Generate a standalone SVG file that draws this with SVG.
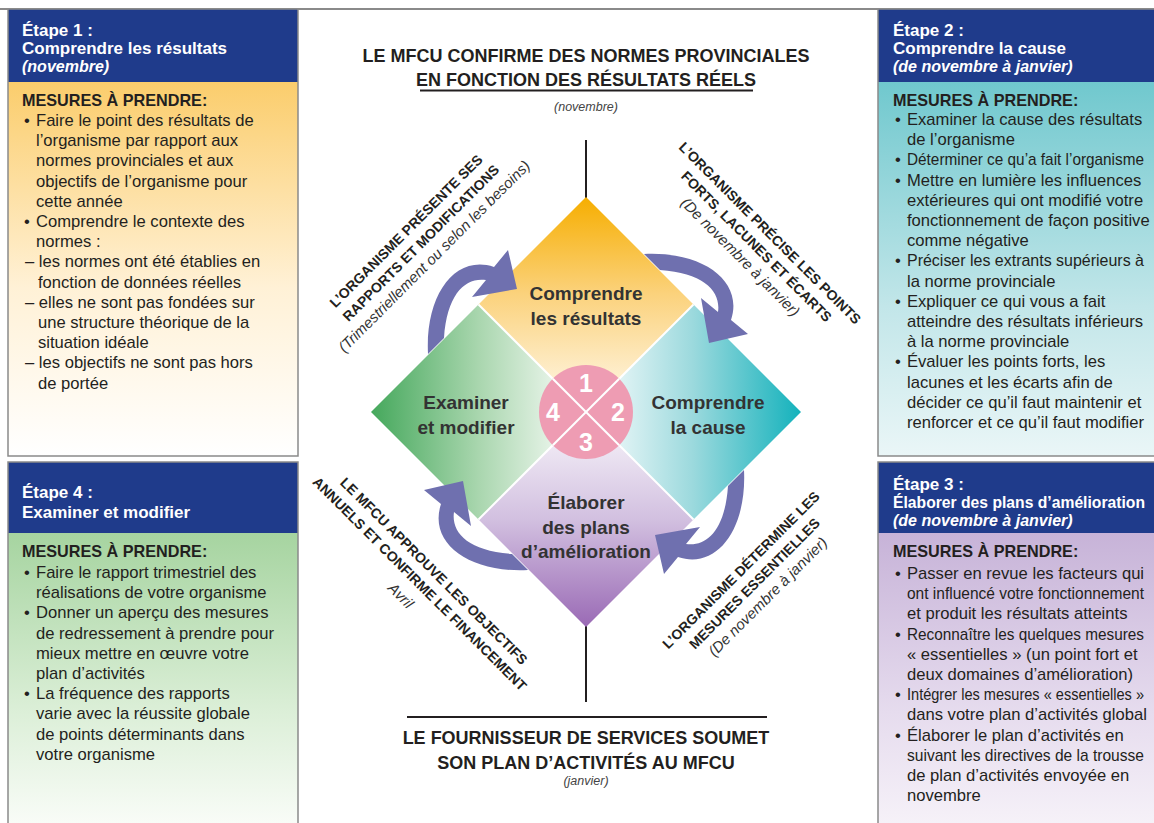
<svg xmlns="http://www.w3.org/2000/svg" width="1154" height="823" viewBox="0 0 1154 823">
  <defs>
    <style>
      .hdr { fill: #1f3b8b; }
      .panel-edge { fill: none; stroke: #8a8a8a; stroke-width: 1.5; }
      .ht { font-family: "Liberation Sans", Arial, sans-serif; font-weight: bold; font-size: 17px; fill: #ffffff; }
      .hti { font-family: "Liberation Sans", Arial, sans-serif; font-weight: bold; font-style: italic; font-size: 16px; fill: #ffffff; }
      .mh { font-family: "Liberation Sans", Arial, sans-serif; font-weight: bold; font-size: 16.2px; fill: #231f20; }
      .bt { font-family: "Liberation Sans", Arial, sans-serif; font-size: 16.6px; fill: #231f20; }
      .title { font-family: "Liberation Sans", Arial, sans-serif; font-weight: bold; font-size: 18px; fill: #231f20; text-anchor: middle; }
      .sub { font-family: "Liberation Sans", Arial, sans-serif; font-style: italic; font-size: 12.5px; fill: #444444; text-anchor: middle; }
      .ql { font-family: "Liberation Sans", Arial, sans-serif; font-weight: bold; font-size: 19px; fill: #333333; text-anchor: middle; }
      .num { font-family: "Liberation Sans", Arial, sans-serif; font-weight: bold; font-size: 25px; fill: #ffffff; text-anchor: middle; }
      .rl { font-family: "Liberation Sans", Arial, sans-serif; font-weight: bold; font-size: 14px; fill: #231f20; text-anchor: middle; }
      .ri { font-family: "Liberation Sans", Arial, sans-serif; font-style: italic; font-size: 15px; fill: #333333; text-anchor: middle; }
      .arrow { fill: #6f70af; }
      .rule { stroke: #231f20; stroke-width: 2; }
      .sep { stroke: #ffffff; stroke-width: 2; }
    </style>

    <!-- panel body fills -->
    <linearGradient id="bodyOrange" x1="0" y1="0" x2="0" y2="1">
      <stop offset="0" stop-color="#fbcd6c"/>
      <stop offset="0.55" stop-color="#fff1d6"/>
      <stop offset="1" stop-color="#ffffff"/>
    </linearGradient>
    <linearGradient id="bodyTeal" x1="0" y1="0" x2="0" y2="1">
      <stop offset="0" stop-color="#70c8ce"/>
      <stop offset="0.6" stop-color="#c2e6e9"/>
      <stop offset="1" stop-color="#eaf6f7"/>
    </linearGradient>
    <linearGradient id="bodyGreen" x1="0" y1="0" x2="0" y2="1">
      <stop offset="0" stop-color="#a6d4a0"/>
      <stop offset="0.6" stop-color="#dcefd8"/>
      <stop offset="1" stop-color="#fbfdfa"/>
    </linearGradient>
    <linearGradient id="bodyPurple" x1="0" y1="0" x2="0" y2="1">
      <stop offset="0" stop-color="#c7b3d8"/>
      <stop offset="0.6" stop-color="#e6dcee"/>
      <stop offset="1" stop-color="#f7f3f9"/>
    </linearGradient>

    <!-- diamond quadrant fills -->
    <linearGradient id="qTop" gradientUnits="userSpaceOnUse" x1="586" y1="197" x2="586" y2="412">
      <stop offset="0" stop-color="#f6ae00"/>
      <stop offset="0.45" stop-color="#fbd27c"/>
      <stop offset="1" stop-color="#fffaf0"/>
    </linearGradient>
    <linearGradient id="qRight" gradientUnits="userSpaceOnUse" x1="801" y1="412" x2="586" y2="412">
      <stop offset="0" stop-color="#14b2bc"/>
      <stop offset="0.5" stop-color="#9bd9dd"/>
      <stop offset="1" stop-color="#ffffff"/>
    </linearGradient>
    <linearGradient id="qBottom" gradientUnits="userSpaceOnUse" x1="586" y1="627" x2="586" y2="412">
      <stop offset="0" stop-color="#9a6ab5"/>
      <stop offset="0.5" stop-color="#d2c0e0"/>
      <stop offset="1" stop-color="#fbf9fc"/>
    </linearGradient>
    <linearGradient id="qLeft" gradientUnits="userSpaceOnUse" x1="371" y1="412" x2="586" y2="412">
      <stop offset="0" stop-color="#45a85c"/>
      <stop offset="0.5" stop-color="#a9d6ae"/>
      <stop offset="1" stop-color="#ffffff"/>
    </linearGradient>

    <!-- curved cycle arrow (left quadrant to top quadrant); the others are rotations -->
    <path id="cycle-arrow" class="arrow"
          d="M 428 354 C 425 295 455 254 494 267 L 508 250 L 517 289 L 472 297 L 486 280 C 466 277 447 293 444 338 Z"/>
  </defs>

  <rect width="1154" height="823" fill="#ffffff"/>
  <line x1="0" y1="9" x2="1154" y2="9" stroke="#8a8a8a" stroke-width="2"/>

  <!-- Étape 1 -->
  <g id="etape1">
    <rect x="8" y="82" width="290" height="374" fill="url(#bodyOrange)"/>
    <rect class="hdr" x="8" y="9" width="290" height="73"/>
    <rect class="panel-edge" x="8" y="9" width="290" height="447"/>
    <text class="ht" x="22" y="36">Étape 1 :</text>
    <text class="ht" x="22" y="54">Comprendre les résultats</text>
    <text class="hti" x="22" y="72">(novembre)</text>
    <text class="mh" x="22" y="106">MESURES À PRENDRE:</text>
    <text class="bt">
      <tspan x="24" y="126">•</tspan><tspan x="36" y="126">Faire le point des résultats de</tspan>
      <tspan x="36" y="146.2">l’organisme par rapport aux</tspan>
      <tspan x="36" y="166.4">normes provinciales et aux</tspan>
      <tspan x="36" y="186.6">objectifs de l’organisme pour</tspan>
      <tspan x="36" y="206.8">cette année</tspan>
      <tspan x="24" y="227">•</tspan><tspan x="36" y="227">Comprendre le contexte des</tspan>
      <tspan x="36" y="247.2">normes :</tspan>
      <tspan x="25" y="267.4">– les normes ont été établies en</tspan>
      <tspan x="38" y="287.6">fonction de données réelles</tspan>
      <tspan x="25" y="307.8">– elles ne sont pas fondées sur</tspan>
      <tspan x="38" y="328">une structure théorique de la</tspan>
      <tspan x="38" y="348.2">situation idéale</tspan>
      <tspan x="25" y="368.4">– les objectifs ne sont pas hors</tspan>
      <tspan x="38" y="388.6">de portée</tspan>
    </text>
  </g>

  <!-- Étape 4 -->
  <g id="etape4">
    <rect x="8" y="533" width="290" height="300" fill="url(#bodyGreen)"/>
    <rect class="hdr" x="8" y="462" width="290" height="71"/>
    <rect class="panel-edge" x="8" y="462" width="290" height="370"/>
    <text class="ht" x="22" y="498">Étape 4 :</text>
    <text class="ht" x="22" y="518">Examiner et modifier</text>
    <text class="mh" x="22" y="557">MESURES À PRENDRE:</text>
    <text class="bt">
      <tspan x="24" y="578">•</tspan><tspan x="36" y="578">Faire le rapport trimestriel des</tspan>
      <tspan x="36" y="598.2">réalisations de votre organisme</tspan>
      <tspan x="24" y="618.4">•</tspan><tspan x="36" y="618.4">Donner un aperçu des mesures</tspan>
      <tspan x="36" y="638.6">de redressement à prendre pour</tspan>
      <tspan x="36" y="658.8">mieux mettre en œuvre votre</tspan>
      <tspan x="36" y="679">plan d’activités</tspan>
      <tspan x="24" y="699.2">•</tspan><tspan x="36" y="699.2">La fréquence des rapports</tspan>
      <tspan x="36" y="719.4">varie avec la réussite globale</tspan>
      <tspan x="36" y="739.6">de points déterminants dans</tspan>
      <tspan x="36" y="759.8">votre organisme</tspan>
    </text>
  </g>

  <!-- Étape 2 -->
  <g id="etape2">
    <rect x="878" y="82" width="276" height="374" fill="url(#bodyTeal)"/>
    <rect class="hdr" x="878" y="9" width="276" height="73"/>
    <path class="panel-edge" d="M 1154 9 H 878 V 456 H 1154"/>
    <text class="ht" x="893" y="36">Étape 2 :</text>
    <text class="ht" x="893" y="54">Comprendre la cause</text>
    <text class="hti" x="893" y="72">(de novembre à janvier)</text>
    <text class="mh" x="893" y="106">MESURES À PRENDRE:</text>
    <text class="bt">
      <tspan x="895" y="125">•</tspan><tspan x="907" y="125">Examiner la cause des résultats</tspan>
      <tspan x="907" y="145.2">de l’organisme</tspan>
      <tspan x="895" y="165.4">•</tspan>
      <tspan x="895" y="185.6">•</tspan><tspan x="907" y="185.6">Mettre en lumière les influences</tspan>
      <tspan x="907" y="205.8">extérieures qui ont modifié votre</tspan>
      <tspan x="907" y="226">fonctionnement de façon positive</tspan>
      <tspan x="907" y="246.2">comme négative</tspan>
      <tspan x="895" y="266.4">•</tspan>
      <tspan x="907" y="286.6">la norme provinciale</tspan>
      <tspan x="895" y="306.8">•</tspan><tspan x="907" y="306.8">Expliquer ce qui vous a fait</tspan>
      <tspan x="907" y="327">atteindre des résultats inférieurs</tspan>
      <tspan x="907" y="347.2">à la norme provinciale</tspan>
      <tspan x="895" y="367.4">•</tspan><tspan x="907" y="367.4">Évaluer les points forts, les</tspan>
      <tspan x="907" y="387.6">lacunes et les écarts afin de</tspan>
      <tspan x="907" y="407.8">décider ce qu’il faut maintenir et</tspan>
      <tspan x="907" y="428">renforcer et ce qu’il faut modifier</tspan>
    </text>
    <text class="bt" x="907" y="165.4" textLength="237" lengthAdjust="spacingAndGlyphs">Déterminer ce qu’a fait l’organisme</text>
    <text class="bt" x="907" y="266.4" textLength="237" lengthAdjust="spacingAndGlyphs">Préciser les extrants supérieurs à</text>
  </g>

  <!-- Étape 3 -->
  <g id="etape3">
    <rect x="878" y="533" width="276" height="300" fill="url(#bodyPurple)"/>
    <rect class="hdr" x="878" y="462" width="276" height="71"/>
    <path class="panel-edge" d="M 1154 462 H 878 V 823"/>
    <text class="ht" x="893" y="490">Étape 3 :</text>
    <text class="ht" x="893" y="508" textLength="252" lengthAdjust="spacingAndGlyphs">Élaborer des plans d’amélioration</text>
    <text class="hti" x="893" y="526">(de novembre à janvier)</text>
    <text class="mh" x="893" y="557">MESURES À PRENDRE:</text>
    <text class="bt">
      <tspan x="895" y="579">•</tspan><tspan x="907" y="579">Passer en revue les facteurs qui</tspan>
      <tspan x="907" y="619.4">et produit les résultats atteints</tspan>
      <tspan x="895" y="639.6">•</tspan>
      <tspan x="907" y="659.8">« essentielles » (un point fort et</tspan>
      <tspan x="907" y="680">deux domaines d’amélioration)</tspan>
      <tspan x="895" y="700.2">•</tspan>
      <tspan x="907" y="720.4">dans votre plan d’activités global</tspan>
      <tspan x="895" y="740.6">•</tspan><tspan x="907" y="740.6">Élaborer le plan d’activités en</tspan>
      <tspan x="907" y="781">de plan d’activités envoyée en</tspan>
      <tspan x="907" y="801.2">novembre</tspan>
    </text>
    <text class="bt" x="907" y="599.2" textLength="237" lengthAdjust="spacingAndGlyphs">ont influencé votre fonctionnement</text>
    <text class="bt" x="907" y="639.6" textLength="237" lengthAdjust="spacingAndGlyphs">Reconnaître les quelques mesures</text>
    <text class="bt" x="907" y="700.2" textLength="237" lengthAdjust="spacingAndGlyphs">Intégrer les mesures « essentielles »</text>
    <text class="bt" x="907" y="760.8" textLength="237" lengthAdjust="spacingAndGlyphs">suivant les directives de la trousse</text>
  </g>

  <!-- provincial standards heading -->
  <g id="normes">
    <text class="title" x="586" y="62">LE MFCU CONFIRME DES NORMES PROVINCIALES</text>
    <text class="title" x="586" y="86">EN FONCTION DES RÉSULTATS RÉELS</text>
    <line class="rule" x1="420" y1="90.5" x2="753" y2="90.5"/>
    <text class="sub" x="586" y="111">(novembre)</text>
  </g>

  <!-- business plan heading -->
  <g id="plan-activites">
    <line class="rule" x1="407" y1="717" x2="767" y2="717"/>
    <text class="title" x="586" y="744">LE FOURNISSEUR DE SERVICES SOUMET</text>
    <text class="title" x="586" y="769">SON PLAN D’ACTIVITÉS AU MFCU</text>
    <text class="sub" x="586" y="785">(janvier)</text>
  </g>

  <!-- axis through the cycle -->
  <line class="rule" x1="586" y1="140" x2="586" y2="198"/>
  <line class="rule" x1="586" y1="626" x2="586" y2="702"/>

  <!-- cycle quadrants -->
  <g id="q-resultats">
    <polygon points="586,197 693.5,304.5 586,412 478.5,304.5" fill="url(#qTop)"/>
    <text class="ql" x="586" y="300">Comprendre</text>
    <text class="ql" x="586" y="325">les résultats</text>
  </g>
  <g id="q-cause">
    <polygon points="693.5,304.5 801,412 693.5,519.5 586,412" fill="url(#qRight)"/>
    <text class="ql" x="708" y="409">Comprendre</text>
    <text class="ql" x="708" y="434">la cause</text>
  </g>
  <g id="q-plans">
    <polygon points="586,412 693.5,519.5 586,627 478.5,519.5" fill="url(#qBottom)"/>
    <text class="ql" x="586" y="509">Élaborer</text>
    <text class="ql" x="586" y="534">des plans</text>
    <text class="ql" x="586" y="558">d’amélioration</text>
  </g>
  <g id="q-examiner">
    <polygon points="478.5,304.5 586,412 478.5,519.5 371,412" fill="url(#qLeft)"/>
    <text class="ql" x="466" y="409">Examiner</text>
    <text class="ql" x="466" y="434">et modifier</text>
  </g>
  <line class="sep" x1="478.5" y1="304.5" x2="693.5" y2="519.5"/>
  <line class="sep" x1="693.5" y1="304.5" x2="478.5" y2="519.5"/>

  <!-- step numbers -->
  <g id="steps">
    <circle cx="586" cy="412" r="47" fill="#ee9cb3"/>
    <line class="sep" x1="552.8" y1="378.8" x2="619.2" y2="445.2"/>
    <line class="sep" x1="619.2" y1="378.8" x2="552.8" y2="445.2"/>
    <text class="num" x="586" y="392">1</text>
    <text class="num" x="618" y="421">2</text>
    <text class="num" x="586" y="451">3</text>
    <text class="num" x="553" y="421">4</text>
  </g>

  <!-- transitions between quadrants -->
  <g id="connectors">
    <use href="#cycle-arrow"/>
    <use href="#cycle-arrow" transform="rotate(90 586 412)"/>
    <use href="#cycle-arrow" transform="rotate(180 586 412)"/>
    <use href="#cycle-arrow" transform="rotate(270 586 412)"/>
  </g>

  <!-- transition labels -->
  <g id="label-rapports" transform="translate(406 231) rotate(-45)">
    <text class="rl" x="0" y="5">L’ORGANISME PRÉSENTE SES</text>
    <text class="rl" x="2" y="24">RAPPORTS ET MODIFICATIONS</text>
    <text class="ri" x="2" y="43">(Trimestriellement ou selon les besoins)</text>
  </g>
  <g id="label-points" transform="translate(770 233) rotate(45)">
    <text class="rl" x="0" y="5">L’ORGANISME PRÉCISE LES POINTS</text>
    <text class="rl" x="0" y="24">FORTS, LACUNES ET ÉCARTS</text>
    <text class="ri" x="-4" y="43">(De novembre à janvier)</text>
  </g>
  <g id="label-mesures" transform="translate(741 570) rotate(-45)">
    <text class="rl" x="0" y="5">L’ORGANISME DÉTERMINE LES</text>
    <text class="rl" x="0" y="24">MESURES ESSENTIELLES</text>
    <text class="ri" x="0" y="43">(De novembre à janvier)</text>
  </g>
  <g id="label-financement" transform="translate(434 571) rotate(45)">
    <text class="rl" x="0" y="5">LE MFCU APPROUVE LES OBJECTIFS</text>
    <text class="rl" x="-1" y="24">ANNUELS ET CONFIRME LE FINANCEMENT</text>
    <text class="ri" x="-6" y="46">Avril</text>
  </g>
</svg>
